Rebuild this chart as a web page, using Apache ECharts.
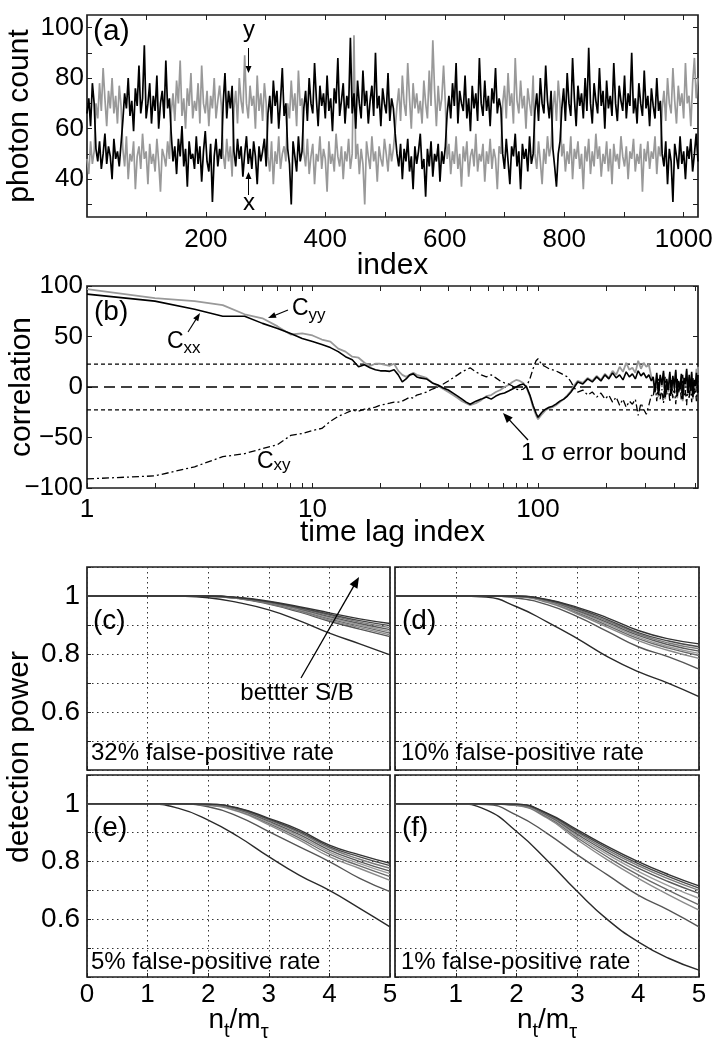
<!DOCTYPE html>
<html>
<head>
<meta charset="utf-8">
<title>Photon count, correlation and detection power</title>
<script src="https://cdn.jsdelivr.net/npm/echarts@6.0.0/dist/echarts.min.js"></script>
<style>
html, body { margin:0; padding:0; background:#ffffff; }
#chart { width:726px; height:1050px; }
</style>
</head>
<body>
<div id="chart"></div>
<script>
const FONT = '"Liberation Sans", Arial, Helvetica, sans-serif';
const INK = '#000000';
const FRAME = '#1e1e1e';

// ---------- (a) photon count traces, read every 3rd index ----------
const traceStep = 3;
const photonX = [
66,72,61,78,70,
52,47,55,44,50,58,46,53,49,40,56,48,51,45,54,
63,74,68,80,65,71,59,76,69,85,66,72,93,64,70,78,62,73,67,81,60,70,75,64,87,68,72,
58,47,53,42,56,49,61,45,52,37,55,48,50,44,57,46,53,39,51,59,47,43,54,31,49,56,45,52,48,
70,82,64,75,68,77,
51,45,56,48,53,41,50,57,46,52,44,55,49,38,53,47,51,56,45,
66,73,62,79,69,75,60,71,84,65,70,
52,46,30,55,49,43,57,47,51,
68,75,63,80,70,66,86,72,61,77,69,74,64,81,67,72,59,76,70,88,65,71,78,62,73,68,96,66,74,60,79,70,64,83,69,75,62,71,77,65,90,68,73,61,76,70,66,82,63,72,68,58,
50,45,54,40,52,47,56,43,49,36,53,46,51,58,44,48,33,52,45,55,41,50,47,54,39,51,46,53,
66,73,64,78,69,86,62,75,70,67,81,64,72,59,77,68,74,63,88,70,65,79,67,73,61,76,70,84,66,72,68,
50,44,56,47,38,53,49,58,45,51,36,54,48,52,43,57,46,50,
67,74,63,80,70,66,85,71,64,75,
52,45,37,50,55,
68,76,63,82,70,65,88,72,61,77,69,74,64,80,67,92,70,62,78,71,66,84,69,75,60,79,68,73,65,86,70,63,77,71,67,81,64,74,69,90,66,72,62,78,70,65,83,68,73,61,76,69,64,80,67,71,
50,45,55,38,52,47,31,54,49,44,57,46,51,40,53,48,56,43,50,58,47
];
const photonY = [
48,42,55,46,51,
70,64,78,67,84,72,61,75,68,80,66,73,62,77,69,
52,45,57,40,50,47,55,36,49,53,44,58,48,51,38,54,46,50,43,56,47,35,52,49,45,55,48,
66,74,63,79,70,87,65,72,60,76,69,82,64,71,67,78,62,85,70,66,75,61,73,68,80,64,71,77,69,
50,44,56,47,53,41,
68,75,62,80,71,66,89,70,64,77,69,73,60,81,67,74,63,78,70,
49,43,55,38,51,46,57,44,50,53,47,
70,64,79,67,74,61,83,69,72,
51,45,56,42,49,54,38,50,47,57,44,52,48,35,55,46,50,43,58,49,45,53,40,51,47,56,44,50,97,48,54,42,52,46,30,55,49,44,57,47,51,39,53,48,45,56,50,43,54,47,52,60,
69,76,63,81,70,65,86,72,60,78,68,74,66,71,62,79,70,64,83,69,95,75,61,77,67,72,85,70,
48,54,42,51,46,57,44,50,37,53,47,55,41,49,52,45,58,43,50,47,54,39,51,46,56,44,52,48,36,53,50,
70,77,64,82,69,74,62,88,71,66,79,68,73,60,76,70,65,81,
50,44,55,47,38,52,46,57,49,53,
68,75,63,79,70,
49,54,43,51,46,57,40,52,48,55,44,50,36,53,47,56,42,51,45,58,48,53,41,50,46,55,43,52,38,54,47,50,44,57,49,45,53,40,51,48,56,43,50,46,54,35,52,47,55,44,51,48,57,42,53,49,
68,75,63,80,70,66,84,71,62,77,69,74,64,86,70,73,61,78,88,72,80
];
const indexTicks = [100,200,300,400,500,600,700,800,900,1000];
const indexLabels = [200,400,600,800,1000];
const countTicks = [30,40,50,60,70,80,90,100];
const countLabels = [40,60,80,100];

// ---------- (b) correlations vs time lag ----------
const lags = [1,2,3,4,5,6,7,8,9,10,11,12,13,14,15,16,17,18,19,20,21,22,23,24,25,
26,27,28,29,30,
32,34,36,38,40,42,44,46,48,50,
53,56,59,62,65,68,71,74,77,80,83,86,89,92,95,98,
100,
104,108,112,116,120,
125,130,135,140,145,150,
158,166,174,182,190,198,206,214,222,230,238,246,254,262,270,278,286,294,302,310,318,
324,330,336,342,348,354,360,366,372,378,384,390,396,402,408,414,420,426,432,438,444,450,456,462,468,474,480,486,492,498,504,510,
512];
const cxx = [92,85,77,70,70,63,58,53,48,45,42,39,35,30,27,20,22,19,17,16,16,15.5,17,12,5,
8,12,13,10,9,
8,4,2,-1,-3,-6,-9,-12,-15,-17,
-14,-12,-10,-12,-9,-7,-6,-4,-2,0,2,3,0,-8,-18,-26,
-30,
-25,-22,-20,-19,-17,
-14,-12,-9,-5,0,5,
3,8,5,10,6,12,8,14,9,12,7,15,10,13,8,16,11,14,9,12,6,
10,-5,14,-8,12,2,16,-10,8,-3,15,-7,11,0,17,-9,6,-2,13,-12,9,3,18,-6,12,-4,15,-10,7,1,14,-6,
12];
const cyy = [97,88,85,81,72,68,60,52,53,51,47,45,38,35,30,29,24,21,23,23,22,21,23,16,12,
10,12,14,12,11,
9,4,1,-2,-5,-8,-11,-14,-16,-18,
-16,-13,-9,-8,-5,-3,0,2,5,7,6,4,-1,-9,-20,-28,
-32,
-27,-23,-21,-20,-18,
-15,-12,-8,-4,2,6,
4,9,6,11,7,13,9,16,12,20,15,24,17,19,14,26,18,24,20,22,10,
8,-6,12,-10,10,0,14,-12,6,-5,13,-9,9,-2,15,-11,4,-4,11,-14,7,1,16,-8,10,-6,13,-12,5,-1,18,-4,
20];
const cxy = [-91,-88,-79,-69,-66,-61,-57,-48,-46,-43,-41,-34,-29,-26,-23,-24,-22,-21,-20,-18,-17,-16,-15,-15,-14,
-12,-10,-11,-8,-7,
-5,-2,0,3,6,9,12,15,17,19,
15,12,10,12,9,6,4,3,1,-2,-3,-2,1,8,18,26,
28,
22,20,18,17,16,
14,12,10,5,-1,-5,
-3,-8,-5,-10,-6,-12,-8,-15,-10,-18,-12,-20,-14,-17,-12,-28,-16,-22,-27,-18,-8,
-10,5,-14,8,-12,-2,-16,10,-8,3,-15,7,-11,0,-17,9,-6,2,-13,12,-9,-3,-18,6,-12,4,-15,10,-7,-1,-14,6,
-5];
const errBound = 22.6;
const lagRange = [1, 512];
const lagTicks = [1,2,3,4,5,6,7,8,9,10,20,30,40,50,60,70,80,90,100,200,300,400,500];
const lagLabels = [1,10,100];

// ---------- (c)-(f) detection power vs n_t/m_tau ----------
const ratioPts = [0,0.5,1,1.5,2,2.5,3,3.5,4,4.5,5];
const power32 = [
[1,1,1,0.999,0.994,0.977,0.952,0.915,0.872,0.835,0.797],
[1,1,1,1,0.999,0.991,0.972,0.945,0.913,0.886,0.860],
[1,1,1,1,0.999,0.992,0.974,0.948,0.917,0.891,0.866],
[1,1,1,1,0.999,0.992,0.975,0.951,0.921,0.896,0.872],
[1,1,1,1,0.999,0.993,0.977,0.953,0.925,0.900,0.878],
[1,1,1,1,1,0.993,0.978,0.956,0.929,0.905,0.884],
[1,1,1,1,1,0.994,0.979,0.958,0.933,0.910,0.891],
[1,1,1,1,1,0.994,0.980,0.960,0.937,0.915,0.898],
[1,1,1,1,1,0.995,0.982,0.963,0.942,0.921,0.905]
];
const power10 = [
[1,1,1,0.996,0.963,0.911,0.853,0.790,0.739,0.699,0.653],
[1,1,1,1,0.993,0.970,0.929,0.877,0.825,0.790,0.748],
[1,1,1,1,0.997,0.978,0.938,0.892,0.846,0.812,0.785],
[1,1,1,1,0.998,0.981,0.943,0.898,0.853,0.820,0.795],
[1,1,1,1,0.998,0.982,0.946,0.903,0.858,0.825,0.802],
[1,1,1,1,0.999,0.984,0.950,0.908,0.864,0.832,0.810],
[1,1,1,1,0.999,0.986,0.953,0.913,0.869,0.838,0.818],
[1,1,1,1,0.999,0.987,0.957,0.918,0.874,0.845,0.825],
[1,1,1,1,1,0.988,0.961,0.924,0.881,0.852,0.835]
];
const power5 = [
[1,1,1,0.985,0.944,0.886,0.817,0.753,0.700,0.638,0.574],
[1,1,1,1,0.990,0.956,0.904,0.852,0.800,0.742,0.696],
[1,1,1,1,0.995,0.973,0.927,0.875,0.817,0.776,0.735],
[1,1,1,1,0.996,0.976,0.932,0.882,0.826,0.785,0.748],
[1,1,1,1,0.997,0.978,0.936,0.888,0.833,0.793,0.758],
[1,1,1,1,0.998,0.980,0.940,0.894,0.840,0.800,0.767],
[1,1,1,1,0.998,0.982,0.944,0.900,0.847,0.808,0.777],
[1,1,1,1,0.999,0.984,0.947,0.905,0.852,0.816,0.786],
[1,1,1,1,0.999,0.985,0.950,0.910,0.857,0.823,0.794]
];
const power1 = [
[1,1,1,0.979,0.904,0.805,0.696,0.598,0.522,0.465,0.424],
[1,1,1,0.998,0.961,0.898,0.823,0.753,0.684,0.632,0.574],
[1,1,1,1,0.994,0.951,0.875,0.805,0.742,0.685,0.632],
[1,1,1,1,0.995,0.955,0.882,0.815,0.754,0.700,0.650],
[1,1,1,1,0.996,0.958,0.888,0.824,0.766,0.716,0.673],
[1,1,1,1,0.997,0.961,0.894,0.832,0.777,0.730,0.690],
[1,1,1,1,0.998,0.964,0.900,0.839,0.786,0.740,0.700],
[1,1,1,1,0.999,0.966,0.905,0.846,0.793,0.748,0.708],
[1,1,1,1,0.999,0.968,0.910,0.852,0.800,0.755,0.716]
];
const powerLabels = [0.6,0.8,1];
const ratioLabels = [0,1,2,3,4,5];
const curveColors = ['#2a2a2a','#555555','#8a8a8a','#6a6a6a','#9a9a9a','#5a5a5a','#7a7a7a','#4a4a4a','#333333'];

// ---------- chart ----------
const chart = echarts.init(document.getElementById('chart'), null, {renderer:'canvas', width:726, height:1050});

const gridBase = {show:true, borderColor:FRAME, borderWidth:1.7, backgroundColor:'rgba(0,0,0,0)', containLabel:false, outerBoundsMode:'none'};
const grid = [
  {left:87, top:15, width:611, height:202},
  {left:87, top:286, width:611, height:202},
  {left:87, top:567, width:303, height:203},
  {left:395, top:567, width:304, height:203},
  {left:87, top:775, width:303, height:202},
  {left:395, top:775, width:304, height:202}
].map(g => Object.assign({}, gridBase, g));

const tick = (len, values) => { const t = {show:true, inside:true, length:len, lineStyle:{color:FRAME, width:1}}; if (values) t.customValues = values; return t; };
const lbl = (size, margin, extra) => Object.assign({show:true, fontSize:size, fontFamily:FONT, color:INK, margin:margin}, extra || {});
const nameStyle = {fontSize:30, fontFamily:FONT, color:INK};
const minus = v => (v < 0 ? '\u2212' + Math.abs(v) : String(v));
const plain = v => String(v);
const noLine = {show:false, onZero:false};
const noSplit = {show:false};
const dotted = {show:true, lineStyle:{color:'#333333', width:1, type:[1.5,3.5]}};

function fpX(gi, showLabels, hideZero) {
  return {type:'value', gridIndex:gi, position:'bottom', min:0, max:5, interval:1,
    axisLine:noLine, axisTick:tick(4),
    axisLabel:lbl(26, 5, {show:showLabels, customValues:ratioLabels, formatter: v => (hideZero && v === 0) ? '' : String(v)}),
    splitLine:dotted};
}
function fpY(gi, showLabels) {
  return {type:'value', gridIndex:gi, position:'left', min:0.4, max:1.1, interval:0.1,
    axisLine:noLine, axisTick:tick(4),
    axisLabel:lbl(28, 7, {show:showLabels, customValues:powerLabels, formatter:plain}),
    splitLine:dotted};
}

const xAxis = [
  {type:'value', gridIndex:0, position:'bottom', min:1, max:1024, axisLine:noLine, axisTick:tick(5, indexTicks),
   axisLabel:lbl(26, 10, {customValues:indexLabels, formatter:plain}), splitLine:noSplit,
   name:'index', nameLocation:'middle', nameGap:34, nameMoveOverlap:false, nameTextStyle:nameStyle},
  {type:'value', gridIndex:0, position:'top', min:1, max:1024, axisLine:noLine, axisTick:tick(5, indexTicks),
   axisLabel:{show:false}, splitLine:noSplit},
  {type:'log', logBase:10, gridIndex:1, position:'bottom', min:lagRange[0], max:lagRange[1], axisLine:noLine, axisTick:tick(5, lagTicks),
   axisLabel:lbl(26, 9, {customValues:lagLabels, formatter:plain}), splitLine:noSplit, minorTick:{show:false},
   name:'time lag index', nameLocation:'middle', nameGap:30, nameMoveOverlap:false, nameTextStyle:nameStyle},
  {type:'log', logBase:10, gridIndex:1, position:'top', min:lagRange[0], max:lagRange[1], axisLine:noLine, axisTick:tick(5, lagTicks),
   axisLabel:{show:false}, splitLine:noSplit, minorTick:{show:false}},
  fpX(2, false, false), fpX(3, false, false), fpX(4, true, false), fpX(5, true, true)
];
const yAxis = [
  {type:'value', gridIndex:0, position:'left', min:25, max:105, axisLine:noLine, axisTick:tick(5, countTicks),
   axisLabel:lbl(26, 3, {customValues:countLabels, formatter:plain}), splitLine:noSplit,
   name:'photon count', nameLocation:'middle', nameRotate:90, nameGap:52, nameMoveOverlap:false, nameTextStyle:nameStyle},
  {type:'value', gridIndex:0, position:'right', min:25, max:105, axisLine:noLine, axisTick:tick(5, countTicks),
   axisLabel:{show:false}, splitLine:noSplit},
  {type:'value', gridIndex:1, position:'left', min:-100, max:100, interval:50, axisLine:noLine, axisTick:tick(5),
   axisLabel:lbl(26, 4, {formatter:minus}), splitLine:noSplit,
   name:'correlation', nameLocation:'middle', nameRotate:90, nameGap:50, nameMoveOverlap:false, nameTextStyle:nameStyle},
  {type:'value', gridIndex:1, position:'right', min:-100, max:100, interval:50, axisLine:noLine, axisTick:tick(5),
   axisLabel:{show:false}, splitLine:noSplit},
  fpY(2, true), fpY(3, false), fpY(4, true), fpY(5, false)
];

const series = [];
const traceIndex = photonX.map((v, k) => 1 + traceStep * k);
series.push({type:'line', name:'y', xAxisIndex:0, yAxisIndex:0, data: traceIndex.map((i, k) => [i, photonY[k]]),
  showSymbol:false, symbol:'none', lineStyle:{color:'#999999', width:1.7}, z:2});
series.push({type:'line', name:'x', xAxisIndex:0, yAxisIndex:0, data: traceIndex.map((i, k) => [i, photonX[k]]),
  showSymbol:false, symbol:'none', lineStyle:{color:'#000000', width:1.7}, z:3});

const refLine = (val, dash, w) => ({type:'line', xAxisIndex:2, yAxisIndex:2, data:[[lagRange[0], val],[lagRange[1], val]],
  showSymbol:false, symbol:'none', lineStyle:{color:'#000000', width:w, type:dash}, z:2});
series.push(refLine(errBound, [4,3], 1.2));
series.push(refLine(-errBound, [4,3], 1.2));
series.push(refLine(0, [11,6], 1.3));
series.push({type:'line', name:'Cyy', xAxisIndex:2, yAxisIndex:2, data: lags.map((l, i) => [l, cyy[i]]),
  showSymbol:false, symbol:'none', lineStyle:{color:'#999999', width:1.8}, z:3});
series.push({type:'line', name:'Cxx', xAxisIndex:2, yAxisIndex:2, data: lags.map((l, i) => [l, cxx[i]]),
  showSymbol:false, symbol:'none', lineStyle:{color:'#000000', width:1.6}, z:4});
series.push({type:'line', name:'Cxy', xAxisIndex:2, yAxisIndex:2, data: lags.map((l, i) => [l, cxy[i]]),
  showSymbol:false, symbol:'none', lineStyle:{color:'#000000', width:1.3, type:[7,3,2,3]}, z:4});

[power32, power10, power5, power1].forEach((curves, p) => {
  curves.forEach((vals, j) => {
    series.push({type:'line', xAxisIndex:4 + p, yAxisIndex:4 + p, data: ratioPts.map((r, i) => [r, vals[i]]),
      smooth:0.5, showSymbol:false, symbol:'none',
      lineStyle:{color:curveColors[j], width:1.4}, z:3});
  });
});

// ---------- annotations ----------
const mctx = document.createElement('canvas').getContext('2d');
function textWidth(t, fs) { mctx.font = fs + 'px ' + FONT; return mctx.measureText(t).width; }
function txt(text, x, baseline, fs, align, extra) {
  return Object.assign({type:'text', x:x, y:baseline - 0.3465 * fs, silent:true, z:100,
    style:{text:text, fontSize:fs, fontFamily:FONT, fill:INK, align:align || 'left', verticalAlign:'middle',
           textAlign:align || 'left', textVerticalAlign:'middle'}}, extra || {});
}
function seq(parts, x0, align) {
  const widths = parts.map(p => textWidth(p[0], p[1]));
  const total = widths.reduce((a, b) => a + b, 0);
  let x = align === 'center' ? x0 - total / 2 : x0;
  return parts.map((p, i) => { const el = txt(p[0], x, p[2], p[1], 'left'); x += widths[i]; return el; });
}
function arrow(x1, y1, x2, y2, len, half, w) {
  const dx = x2 - x1, dy = y2 - y1, L = Math.hypot(dx, dy);
  const ux = dx / L, uy = dy / L;
  const bx = x2 - ux * len, by = y2 - uy * len;
  return [
    {type:'line', silent:true, z:100, shape:{x1:x1, y1:y1, x2:bx + ux * 1, y2:by + uy * 1}, style:{stroke:INK, lineWidth:w || 1.2}},
    {type:'polygon', silent:true, z:100, shape:{points:[[x2, y2],[bx - uy * half, by + ux * half],[bx + uy * half, by - ux * half]]}, style:{fill:INK}}
  ];
}

const graphic = [].concat(
  [txt('(a)', 93, 42, 30)],
  [txt('y', 249, 39, 24, 'center')],
  arrow(248.5, 48, 248.5, 73, 7, 3, 1),
  [txt('x', 249, 212, 24, 'center')],
  arrow(248.5, 195, 248.5, 172, 7, 3, 1),
  [txt('(b)', 94, 322, 28)],
  seq([['C', 23, 350], ['xx', 17, 354]], 167, 'left'),
  arrow(188, 332, 200, 313, 8, 3, 1.1),
  seq([['C', 23, 317], ['yy', 17, 321]], 292, 'left'),
  arrow(288, 310, 268, 318, 8, 3, 1.1),
  seq([['C', 23, 470], ['xy', 17, 471]], 257, 'left'),
  [txt('1 \u03c3 error bound', 521, 462, 24)],
  arrow(528, 440, 503, 413, 10, 4, 1.3),
  [txt('(c)', 93, 631, 28), txt('(d)', 402, 631, 28), txt('(e)', 93, 838, 28), txt('(f)', 402, 838, 28)],
  [txt('32% false-positive rate', 91, 762, 24), txt('10% false-positive rate', 401, 762, 24),
   txt('5% false-positive rate', 91, 971, 24), txt('1% false-positive rate', 401, 971, 24)],
  [txt('bettter S/B', 297, 702, 24, 'center')],
  arrow(301, 678, 359, 577, 11, 4.5, 1.3),
  [{type:'text', x:20, y:757, rotation:Math.PI / 2, silent:true, z:100,
    style:{text:'detection power', fontSize:30, fontFamily:FONT, fill:INK, align:'center', verticalAlign:'middle', textAlign:'center', textVerticalAlign:'middle'}}],
  seq([['n', 28, 1030], ['t', 20, 1038], ['/m', 28, 1030], ['\u03c4', 20, 1039]], 238.5, 'center'),
  seq([['n', 28, 1030], ['t', 20, 1038], ['/m', 28, 1030], ['\u03c4', 20, 1039]], 547, 'center')
);

chart.setOption({
  animation:false,
  backgroundColor:'#ffffff',
  textStyle:{fontFamily:FONT},
  grid:grid,
  xAxis:xAxis,
  yAxis:yAxis,
  series:series,
  graphic:graphic
});
</script>
</body>
</html>
